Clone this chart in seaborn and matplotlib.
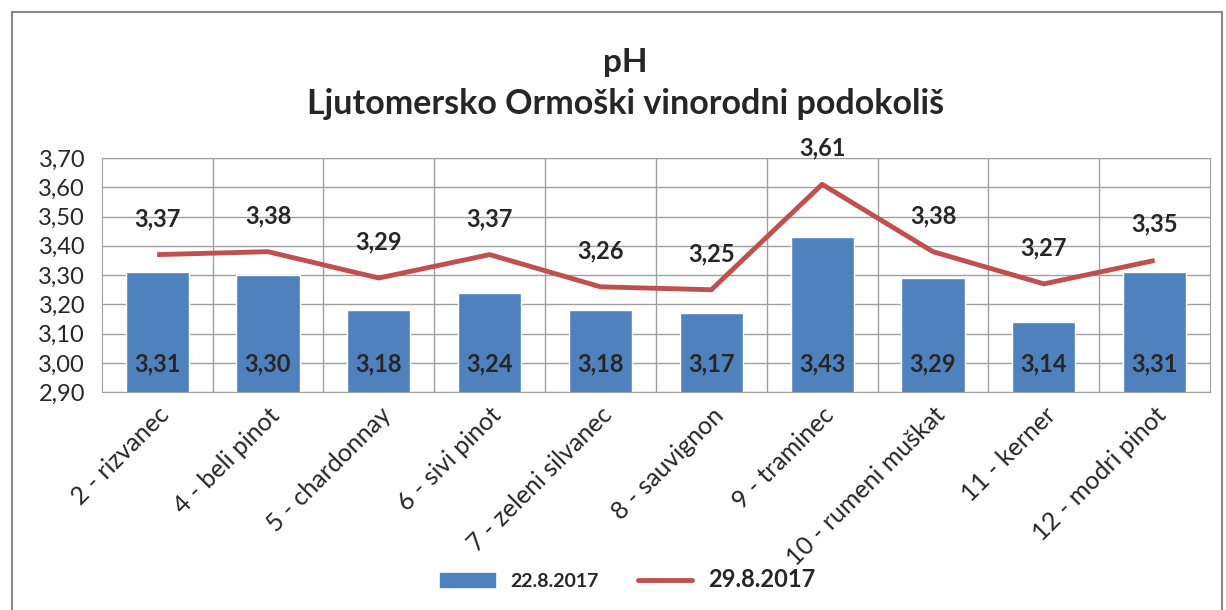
import pandas as pd
import matplotlib
matplotlib.use("Agg")
import matplotlib.pyplot as plt
import seaborn as sns
from matplotlib.patches import Rectangle

# data
varieties = ["2 - rizvanec", "4 - beli pinot", "5 - chardonnay", "6 - sivi pinot",
             "7 - zeleni silvanec", "8 - sauvignon", "9 - traminec",
             "10 - rumeni muškat", "11 - kerner", "12 - modri pinot"]
ph_22 = [3.31, 3.30, 3.18, 3.24, 3.18, 3.17, 3.43, 3.29, 3.14, 3.31]
ph_29 = [3.37, 3.38, 3.29, 3.37, 3.26, 3.25, 3.61, 3.38, 3.27, 3.35]
label_22 = "22.8.2017"
label_29 = "29.8.2017"

df = pd.DataFrame({"sorta": varieties, label_22: ph_22, label_29: ph_29})

sns.set_style("white")
plt.rcParams['font.family'] = ['Lato', 'DejaVu Sans']

fig = plt.figure(figsize=(12.26, 6.1), dpi=100)
ax = fig.add_axes([0.083, 0.357, 0.904, 0.384])

blue = "#4F81BD"
red = "#C0504D"

sns.barplot(data=df, x="sorta", y=label_22, color=blue, width=0.57,
            saturation=1, ax=ax, zorder=2)
ax.plot(range(len(varieties)), ph_29, color=red, lw=3.5, zorder=3,
        solid_capstyle="butt")

ax.set_ylim(2.90, 3.70)
ax.set_xlim(-0.5, len(varieties) - 0.5)
yt = [2.9 + 0.1 * i for i in range(9)]
ax.set_yticks(yt)
ax.set_yticklabels([f"{v:.2f}".replace(".", ",") for v in yt], fontsize=17)
ax.set_xticks(range(len(varieties)))
ax.set_xticklabels(varieties, rotation=45, ha="right", rotation_mode="anchor",
                   fontsize=18)
ax.tick_params(axis="y", length=0, pad=12)
ax.tick_params(axis="x", length=0, pad=8)
ax.set_xticks([i + 0.5 for i in range(len(varieties) - 1)], minor=True)
ax.tick_params(axis="x", which="minor", length=0)
ax.grid(True, axis="y", color="#a0a0a0", lw=1, zorder=0)
ax.grid(True, axis="x", which="minor", color="#a0a0a0", lw=1, zorder=0)
ax.set_axisbelow(True)
for s in ax.spines.values():
    s.set_color("#a0a0a0")
ax.set_xlabel("")
ax.set_ylabel("")

for i, (a, b) in enumerate(zip(ph_22, ph_29)):
    ax.text(i, 2.995, f"{a:.2f}".replace(".", ","), ha="center", va="center",
            fontsize=17, fontweight="bold", zorder=4)
    ax.annotate(f"{b:.2f}".replace(".", ","), (i, b), xytext=(0, 26),
                textcoords="offset points", ha="center", va="center",
                fontsize=17, fontweight="bold")

fig.text(0.51, 0.897, "pH", ha="center", va="center", fontsize=24,
         fontweight="bold")
fig.text(0.51, 0.83, "Ljutomersko Ormoški vinorodni podokoliš", ha="center",
         va="center", fontsize=24.5, fontweight="bold")

bar_handle = Rectangle((0, 0), 1, 1, color=blue)
line_handle = plt.Line2D([], [], color=red, lw=3.5)
leg = fig.legend([bar_handle, line_handle], [label_22, label_29],
                 loc="center", bbox_to_anchor=(0.512, 0.05), ncol=2,
                 frameon=False, handlelength=2.8, columnspacing=2.0,
                 prop={"weight": "bold", "size": 14})
leg.get_texts()[1].set_fontsize(17)

fig.patches.append(Rectangle((12 / 1226, -0.1), 1210 / 1226, 1.1 - 12 / 610,
                             transform=fig.transFigure, fill=False,
                             edgecolor="#888888", lw=1.5))

fig.savefig("out.png", dpi=100)
